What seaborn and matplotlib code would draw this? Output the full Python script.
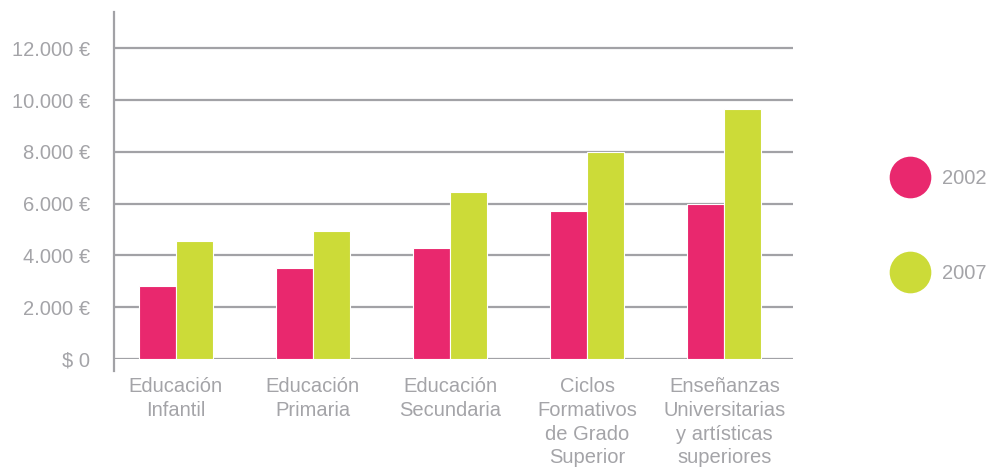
import matplotlib
matplotlib.use("Agg")
import matplotlib.pyplot as plt
from matplotlib.lines import Line2D
from matplotlib.ticker import FixedLocator, FuncFormatter
import seaborn as sns
import pandas as pd

# Gasto medio por alumno y nivel educativo
niveles = [
    "Educación\nInfantil",
    "Educación\nPrimaria",
    "Educación\nSecundaria",
    "Ciclos\nFormativos\nde Grado\nSuperior",
    "Enseñanzas\nUniversitarias\ny artísticas\nsuperiores",
]
anios = ["2002", "2007"]
gasto_2002 = [2800, 3500, 4300, 5700, 6000]
gasto_2007 = [4550, 4950, 6450, 8000, 9650]
y_ticks = [0, 2000, 4000, 6000, 8000, 10000, 12000]

ROSA = "#E9286E"
VERDE = "#CCDB38"
GRIS = "#A2A2A6"
TEXTO = "#A4A4A8"

df = pd.DataFrame({
    "nivel": niveles * 2,
    "gasto": gasto_2002 + gasto_2007,
    "anio": [anios[0]] * len(niveles) + [anios[1]] * len(niveles),
})

sns.set_theme(style="white")
plt.rcParams["font.family"] = ["Liberation Sans", "DejaVu Sans"]

FS = 14.5

fig = plt.figure(figsize=(9.95, 4.70), dpi=100)
ax = fig.add_axes([114 / 995, 1 - 359 / 470, (793 - 114) / 995, (359 - 12) / 470])

sns.barplot(data=df, x="nivel", y="gasto", hue="anio", order=niveles,
            hue_order=anios, palette=[ROSA, VERDE], width=0.54,
            edgecolor="white", linewidth=0.8, saturation=1, legend=False,
            ax=ax)

ax.set_xlim(-0.45, 4.5)
ax.set_ylim(0, 13400)
ax.set_axisbelow(True)

# horizontal guide lines
ax.yaxis.set_major_locator(FixedLocator(y_ticks))
ax.yaxis.set_major_formatter(FuncFormatter(
    lambda v, _: "$ 0" if v == 0 else f"{int(v):,} €".replace(",", ".")))
ax.grid(axis="y", color=GRIS, linewidth=1.6)
ax.grid(axis="x", visible=False)

for side in ["top", "right"]:
    ax.spines[side].set_visible(False)
ax.spines["bottom"].set_visible(False)
ax.spines["left"].set_color(GRIS)
ax.spines["left"].set_linewidth(1.6)
ax.spines["left"].set_bounds(-450, 13400)

ax.tick_params(axis="y", length=8.5, width=1.6, color=GRIS, pad=8.5,
               labelsize=FS, labelcolor=TEXTO, direction="out")

# category separators below the baseline
ax.set_xticks([-0.45, 0.5, 1.5, 2.5, 3.5, 4.5], minor=True)
ax.tick_params(axis="x", which="minor", length=9, width=1.6, color=GRIS,
               direction="out")
ax.tick_params(axis="x", which="major", length=0, pad=13, labelsize=FS,
               labelcolor=TEXTO)
for lab in ax.get_xticklabels():
    lab.set_linespacing(1.32)
    lab.set_verticalalignment("top")

ax.set_xlabel("")
ax.set_ylabel("")

handles = [Line2D([], [], linestyle="none", marker="o", markersize=30,
                  markerfacecolor=c, markeredgecolor="none")
           for c in [ROSA, VERDE]]
leg = fig.legend(handles, anios, loc="center left",
                 bbox_to_anchor=(890 / 995, 1 - 226 / 470), frameon=False,
                 fontsize=FS, labelspacing=3.75, handlelength=2.0,
                 handletextpad=0.6, borderaxespad=0, borderpad=0)
for t in leg.get_texts():
    t.set_color(TEXTO)

fig.savefig("out.png", dpi=100)
